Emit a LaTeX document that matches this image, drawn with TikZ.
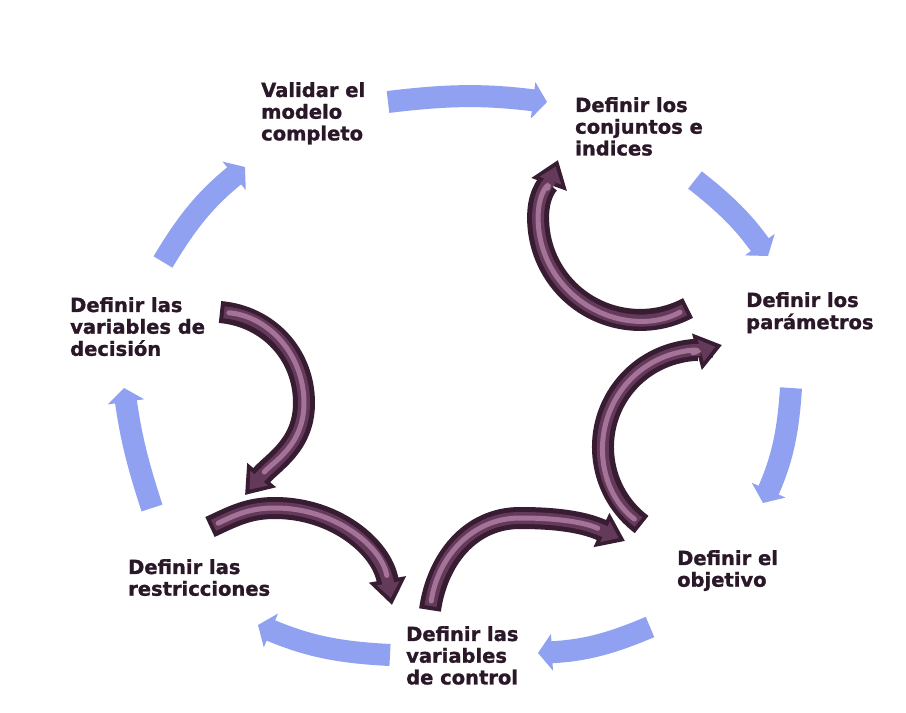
\documentclass[tikz,border=0pt]{standalone}
\usepackage{fontspec}
\setmainfont{DejaVu Sans}[BoldFeatures={FakeBold=1.2}]
\usetikzlibrary{arrows.meta}
\definecolor{txt}{RGB}{42,24,40}
\definecolor{cyc}{RGB}{143,161,240}
\definecolor{pdark}{RGB}{55,28,50}
\definecolor{pmid}{RGB}{100,58,90}
\definecolor{plight}{RGB}{165,115,152}
\tikzset{
  lbl/.style={anchor=base west, inner sep=0pt, text=txt, font=\bfseries\fontsize{19.5}{21.7}\selectfont},
  cycarrow/.style={line width=22pt, cyc, -{Triangle[width=36pt,length=14pt]}},
  pout/.style={line width=22pt, pdark, -{Triangle[width=36pt,length=26pt]}},
  pin/.style={line width=12pt, pmid, shorten <=4pt, shorten >=7pt, -{Triangle[width=22pt,length=15pt]}},
  phi/.style={line width=5pt, plight, shorten <=9pt, shorten >=30pt, line cap=round},
}
\newcommand\purplearrow[1]{%
  \draw[pout] #1;
  \draw[pin] #1;
  \draw[phi] #1;
}
\newcommand\lines[1]{\begin{tabular}[t]{@{}l@{}}#1\end{tabular}}
\begin{document}
\begin{tikzpicture}[x=1pt,y=1pt]
\fill[white] (0,0) rectangle (906,713);
\useasboundingbox (0,0) rectangle (906,713);

% cycle (blue) arrow end points
\coordinate (b1s) at (388,611); \coordinate (b1e) at (547,611);
\coordinate (b2s) at (695,533); \coordinate (b2e) at (768,457);
\coordinate (b3s) at (791,325); \coordinate (b3e) at (763,210);
\coordinate (b4s) at (650,86);  \coordinate (b4e) at (538,60);
\coordinate (b5s) at (390,58);  \coordinate (b5e) at (258,88);
\coordinate (b6s) at (152,205); \coordinate (b6e) at (124,325);
\coordinate (b7s) at (163,451); \coordinate (b7e) at (245,546);

\draw[cycarrow] (b1s) to[bend left=7] (b1e);
\draw[cycarrow] (b2s) to[bend left=8] (b2e);
\draw[cycarrow] (b3s) to[bend left=10] (b3e);
\draw[cycarrow] (b4s) to[bend left=10] (b4e);
\draw[cycarrow] (b5s) to[bend left=10] (b5e);
\draw[cycarrow] (b6s) to[bend left=5] (b6e);
\draw[cycarrow] (b7s) to[bend left=10] (b7e);

% purple arrows
\coordinate (p1s) at (688,405); \coordinate (p1e) at (558,553);
\coordinate (p2s) at (641.6,188.5); \coordinate (p2e) at (722,368);
\coordinate (p3s) at (220,401); \coordinate (p3m) at (304,310); \coordinate (p3e) at (245,218);
\coordinate (p4s) at (210,186); \coordinate (p4m) at (275,205); \coordinate (p4e) at (392,108);
\coordinate (p5s) at (430,103); \coordinate (p5m) at (520,195); \coordinate (p5e) at (625,172);

\purplearrow{(p1s) arc[start angle=-62, end angle=-183, radius=102] to[out=87,in=250] (p1e)}
\purplearrow{(p2s) arc[start angle=233, end angle=105, radius=97] to[out=15,in=195] (p2e)}
\purplearrow{(p3s) to[out=-5,in=90] (p3m) to[out=270,in=50] (p3e)}
\purplearrow{(p4s) to[out=25,in=180] (p4m) to[out=0,in=100] (p4e)}
\purplearrow{(p5s) to[out=82,in=180] (p5m) to[out=0,in=155] (p5e)}

% labels
\node[lbl] (validar)   at (261,616) {\lines{Validar el\\modelo\\completo}};
\node[lbl] (conjuntos) at (575,601) {\lines{Definir los\\conjuntos e\\indices}};
\node[lbl] (param)     at (746,406) {\lines{Definir los\\parámetros}};
\node[lbl] (objetivo)  at (677,148) {\lines{Definir el\\objetivo}};
\node[lbl] (control)   at (406,72)  {\lines{Definir las\\variables\\de control}};
\node[lbl] (restric)   at (128,139) {\lines{Definir las\\restricciones}};
\node[lbl] (decision)  at (70,401)  {\lines{Definir las\\variables de\\decisión}};
\end{tikzpicture}
\end{document}
